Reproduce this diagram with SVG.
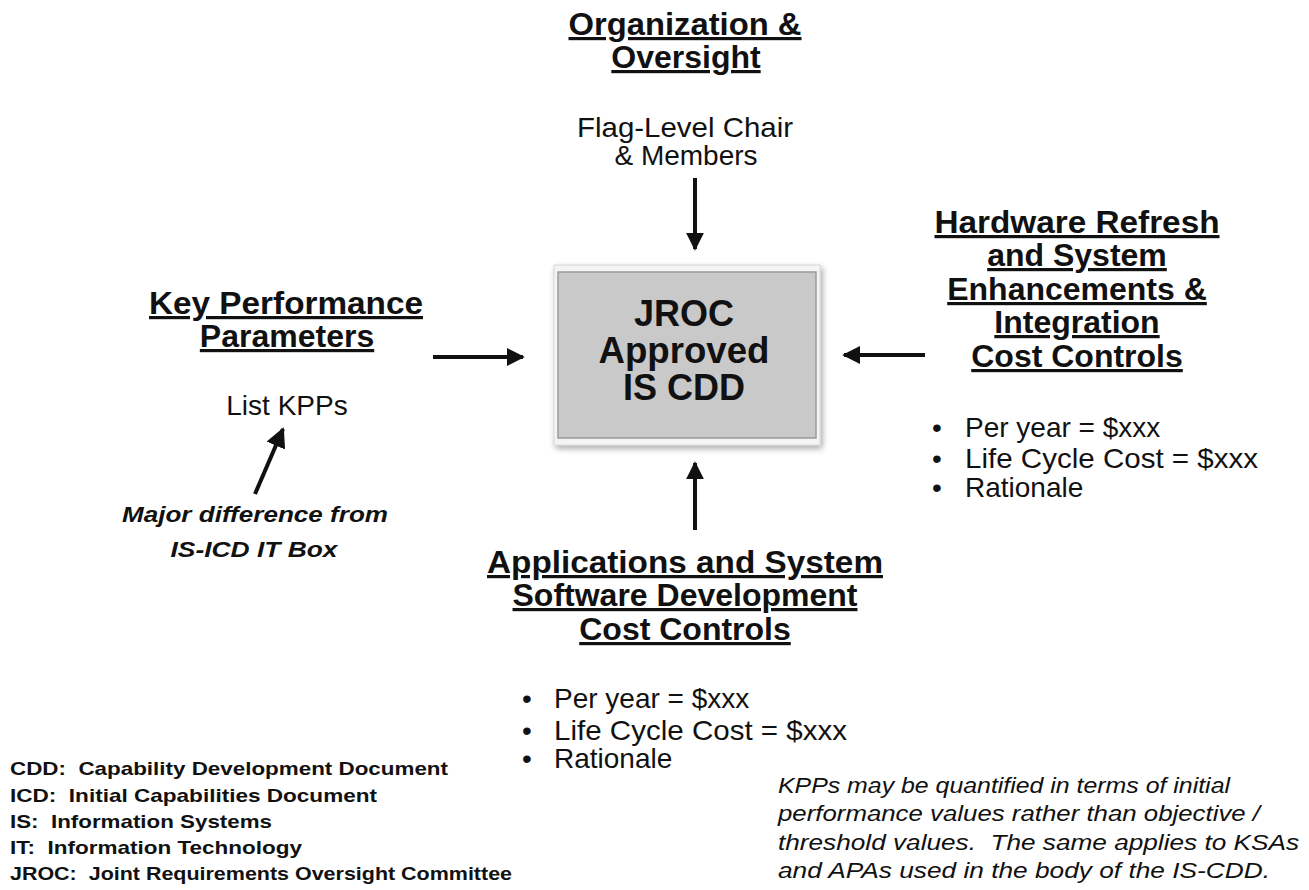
<svg xmlns="http://www.w3.org/2000/svg" width="1309" height="890" viewBox="0 0 1309 890">
<defs>
<style>
text{font-family:"Liberation Sans",Arial,sans-serif;fill:#111;white-space:pre}
.h{font-size:32px;font-weight:bold;text-anchor:middle;text-decoration:underline}
.n{font-size:28px}
.c{text-anchor:middle}
.box{font-size:36px;font-weight:bold;text-anchor:middle}
.fn{font-size:19px;font-weight:bold}
.it{font-size:22px;font-style:italic}
.bi{font-size:22px;font-style:italic;font-weight:bold;text-anchor:middle}
.ar{stroke:#111;stroke-width:4;fill:none}
</style>
<marker id="ah" viewBox="0 0 10 10" refX="9" refY="5" markerWidth="4.5" markerHeight="4.5" markerUnits="strokeWidth" orient="auto">
<path d="M0,0 L10,5 L0,10 z" fill="#111"/>
</marker>
<marker id="ahs" viewBox="0 0 10 10" refX="9" refY="5" markerWidth="5" markerHeight="5" markerUnits="strokeWidth" orient="auto">
<path d="M0,0 L10,5 L0,10 z" fill="#111"/>
</marker>
<filter id="sh" x="-10%" y="-10%" width="120%" height="120%">
<feGaussianBlur in="SourceAlpha" stdDeviation="3"/>
<feOffset dx="2" dy="3"/>
<feComponentTransfer><feFuncA type="linear" slope="0.35"/></feComponentTransfer>
<feMerge><feMergeNode/><feMergeNode in="SourceGraphic"/></feMerge>
</filter>
</defs>
<rect width="1309" height="890" fill="#fff"/>

<g id="org">
<text class="h" x="685" y="35" textLength="233" lengthAdjust="spacingAndGlyphs">Organization &amp;</text>
<text class="h" x="686" y="68">Oversight</text>
<text class="n c" x="685" y="137" textLength="216" lengthAdjust="spacingAndGlyphs">Flag-Level Chair</text>
<text class="n c" x="686" y="165">&amp; Members</text>
</g>

<g id="center">
<rect x="554" y="265" width="266" height="180" fill="#f4f4f4" stroke="#d6d6d6" filter="url(#sh)"/>
<rect x="558" y="272" width="258" height="166" fill="#c9c9c9" stroke="#9a9a9a" stroke-width="1.5"/>
<text class="box" x="684" y="326">JROC</text>
<text class="box" x="684" y="363" textLength="171" lengthAdjust="spacingAndGlyphs">Approved</text>
<text class="box" x="684" y="400">IS CDD</text>
</g>

<g id="kpp">
<text class="h" x="286" y="314" textLength="274" lengthAdjust="spacingAndGlyphs">Key Performance</text>
<text class="h" x="287" y="347">Parameters</text>
<text class="n c" x="287" y="415">List KPPs</text>
<text class="bi" x="255" y="522" textLength="266" lengthAdjust="spacingAndGlyphs">Major difference from</text>
<text class="bi" x="254" y="557" textLength="167" lengthAdjust="spacingAndGlyphs">IS-ICD IT Box</text>
</g>

<g id="hardware">
<text class="h" x="1077" y="233" textLength="285" lengthAdjust="spacingAndGlyphs">Hardware Refresh</text>
<text class="h" x="1077" y="266">and System</text>
<text class="h" x="1077" y="300">Enhancements &amp;</text>
<text class="h" x="1077" y="333">Integration</text>
<text class="h" x="1077" y="367">Cost Controls</text>
<text class="n" x="932" y="437">•</text>
<text class="n" x="965" y="437">Per year = $xxx</text>
<text class="n" x="932" y="468">•</text>
<text class="n" x="965" y="468" textLength="293" lengthAdjust="spacingAndGlyphs">Life Cycle Cost = $xxx</text>
<text class="n" x="932" y="497">•</text>
<text class="n" x="965" y="497">Rationale</text>
</g>

<g id="apps">
<text class="h" x="685" y="573" textLength="396" lengthAdjust="spacingAndGlyphs">Applications and System</text>
<text class="h" x="685" y="606">Software Development</text>
<text class="h" x="685" y="640">Cost Controls</text>
<text class="n" x="522" y="708">•</text>
<text class="n" x="554" y="708">Per year = $xxx</text>
<text class="n" x="522" y="740">•</text>
<text class="n" x="554" y="740" textLength="293" lengthAdjust="spacingAndGlyphs">Life Cycle Cost = $xxx</text>
<text class="n" x="522" y="768">•</text>
<text class="n" x="554" y="768">Rationale</text>
</g>

<g id="legend">
<text class="fn" x="10" y="775" textLength="438" lengthAdjust="spacingAndGlyphs">CDD:  Capability Development Document</text>
<text class="fn" x="10" y="802" textLength="367" lengthAdjust="spacingAndGlyphs">ICD:  Initial Capabilities Document</text>
<text class="fn" x="10" y="828" textLength="262" lengthAdjust="spacingAndGlyphs">IS:  Information Systems</text>
<text class="fn" x="10" y="854" textLength="292" lengthAdjust="spacingAndGlyphs">IT:  Information Technology</text>
<text class="fn" x="10" y="880" textLength="502" lengthAdjust="spacingAndGlyphs">JROC:  Joint Requirements Oversight Committee</text>
</g>

<g id="note">
<text class="it" x="778" y="793" textLength="452" lengthAdjust="spacingAndGlyphs">KPPs may be quantified in terms of initial</text>
<text class="it" x="778" y="821" textLength="482" lengthAdjust="spacingAndGlyphs">performance values rather than objective /</text>
<text class="it" x="778" y="850" textLength="521" lengthAdjust="spacingAndGlyphs">threshold values.  The same applies to KSAs</text>
<text class="it" x="778" y="878" textLength="492" lengthAdjust="spacingAndGlyphs">and APAs used in the body of the IS-CDD.</text>
</g>

<g id="connectors">
<line class="ar" x1="695" y1="178" x2="695" y2="249" marker-end="url(#ah)"/>
<line class="ar" x1="433" y1="357" x2="523" y2="357" marker-end="url(#ah)"/>
<line class="ar" x1="925" y1="355" x2="844" y2="355" marker-end="url(#ah)"/>
<line class="ar" x1="695" y1="530" x2="695" y2="463" marker-end="url(#ah)"/>
<line class="ar" x1="255" y1="494" x2="283" y2="429" stroke-width="3" marker-end="url(#ahs)"/>
</g>
</svg>
